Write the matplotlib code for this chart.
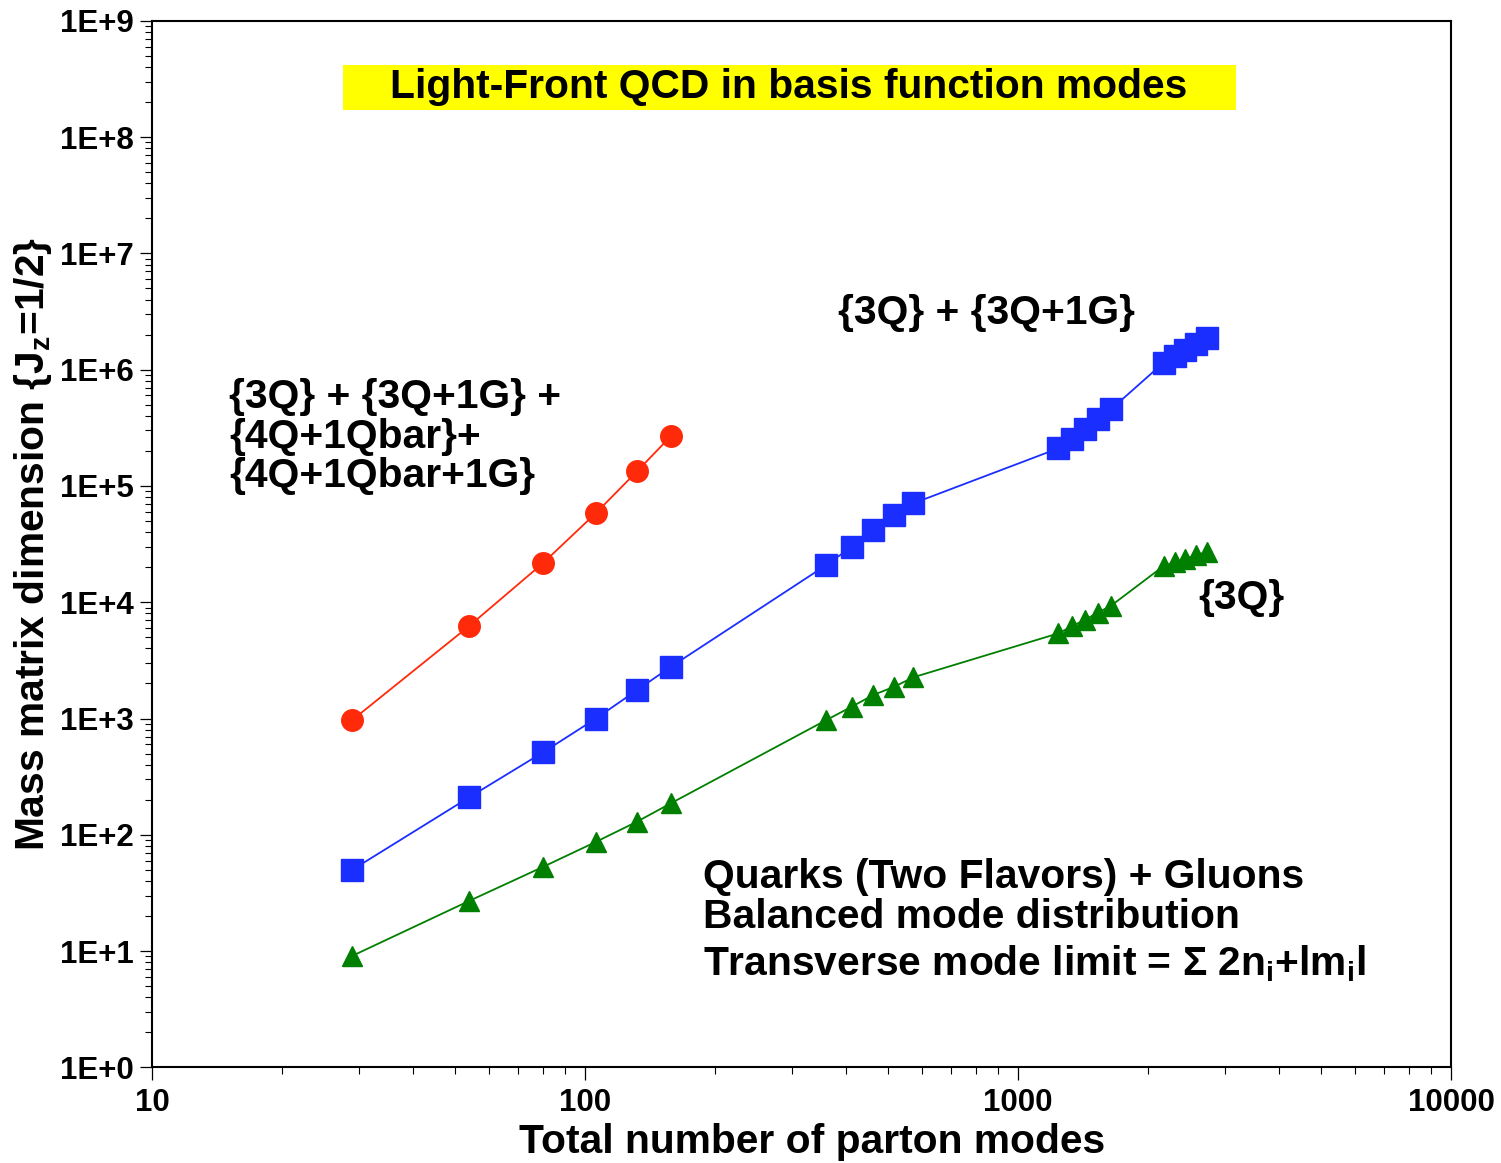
import matplotlib
matplotlib.use("Agg")
import matplotlib.pyplot as plt
from matplotlib.ticker import FixedLocator, LogLocator, NullFormatter
from matplotlib.patches import Rectangle

plt.rcParams['font.family'] = ['Liberation Sans', 'DejaVu Sans']
plt.rcParams['font.weight'] = 'bold'
plt.rcParams['mathtext.fontset'] = 'custom'
plt.rcParams['mathtext.rm'] = 'Liberation Sans:bold'
plt.rcParams['mathtext.bf'] = 'Liberation Sans:bold'
plt.rcParams['mathtext.it'] = 'Liberation Sans:bold'
plt.rcParams['mathtext.sf'] = 'Liberation Sans:bold'
plt.rcParams['mathtext.default'] = 'bf'

# Total number of parton modes for each truncation
modes_low = [29, 54, 80, 106, 132, 158]
modes_mid = [361, 413, 463, 518, 573]
modes_high1 = [1240, 1330, 1430, 1530, 1640]
modes_high2 = [2170, 2300, 2430, 2580, 2730]
modes_all = modes_low + modes_mid + modes_high1 + modes_high2

# Mass matrix dimensions (J_z = 1/2)
dim_with_qbar = [970, 6240, 21700, 58500, 134000, 269000]
dim_3q_1g = [50, 210, 512, 1000, 1760, 2790,
             20900, 30000, 41800, 56200, 70800,
             210500, 255000, 310000, 375000, 456000,
             1150000, 1300000, 1470000, 1660000, 1870000]
dim_3q = [9.1, 27, 53, 87, 130, 187,
          971, 1263, 1592, 1877, 2260,
          5400, 6190, 7090, 8140, 9330,
          20500, 22000, 23600, 25300, 27200]

x_ticks = [10, 100, 1000, 10000]
x_tick_labels = ["10", "100", "1000", "10000"]
y_ticks = [10.0 ** k for k in range(10)]
y_tick_labels = ["1E+%d" % k for k in range(10)]

fig = plt.figure(figsize=(15.01, 11.63), dpi=100)
ax = fig.add_axes([0.1013, 0.0822, 0.8654, 0.9000])

ax.plot(modes_low, dim_with_qbar, color='#ff2a0a', lw=1.3, marker='o',
        ms=15.5, mec='#ff2a0a', mfc='#ff2a0a')
ax.plot(modes_all, dim_3q_1g, color='#1a2eff', lw=1.3, marker='s',
        ms=15.5, mec='#1a2eff', mfc='#1a2eff')
ax.plot(modes_all, dim_3q, color='#007f00', lw=1.3, marker='^',
        ms=14.5, mec='#007f00', mfc='#007f00')

ax.set_xscale('log')
ax.set_yscale('log')
ax.set_xlim(10, 10000)
ax.set_ylim(1, 1e9)

ax.xaxis.set_major_locator(FixedLocator(x_ticks))
ax.set_xticklabels(x_tick_labels)
ax.yaxis.set_major_locator(FixedLocator(y_ticks))
ax.set_yticklabels(y_tick_labels)
ax.xaxis.set_minor_locator(LogLocator(base=10, subs=range(2, 10), numticks=20))
ax.yaxis.set_minor_locator(LogLocator(base=10, subs=range(2, 10), numticks=20))
ax.xaxis.set_minor_formatter(NullFormatter())
ax.yaxis.set_minor_formatter(NullFormatter())

ax.tick_params(which='major', direction='out', length=9, width=0.9,
               labelsize=22.5, top=False, right=False)
ax.tick_params(which='minor', direction='out', length=5, width=0.8,
               top=False, right=False)
ax.tick_params(axis='y', which='major', pad=4)
ax.tick_params(axis='x', which='major', pad=6)
for lbl in ax.get_xticklabels() + ax.get_yticklabels():
    lbl.set_fontweight('bold')
for sp in ax.spines.values():
    sp.set_linewidth(1.5)

big = 29.3

ax.set_xlabel("Total number of parton modes", fontsize=big, fontweight='bold')
ax.xaxis.set_label_coords(0.508, -0.053)
ax.set_ylabel(r"Mass matrix dimension {J$_z$=1/2}", fontsize=big,
              fontweight='bold')
ax.yaxis.label.set_va('center')
ax.yaxis.set_label_coords(-0.0916, 0.5)

# Title banner
ax.add_patch(Rectangle((0.147, 0.9147), 0.6875, 0.043, transform=ax.transAxes,
                       facecolor='#ffff00', edgecolor='none', zorder=1))
ax.text(0.4904, 0.9367, "Light-Front QCD in basis function modes",
        transform=ax.transAxes, ha='center', va='center', fontsize=big,
        fontweight='bold', zorder=2)

# Series labels
multi_lines = ["{3Q} + {3Q+1G} +", "{4Q+1Qbar}+", "{4Q+1Qbar+1G}"]
for txt, yy in zip(multi_lines, [0.6405, 0.6023, 0.5650]):
    ax.text(0.0593, yy, txt, transform=ax.transAxes, ha='left', va='center',
            fontsize=big, fontweight='bold')
ax.text(0.528, 0.7207, "{3Q} + {3Q+1G}", transform=ax.transAxes,
        ha='left', va='center', fontsize=big, fontweight='bold')
ax.text(0.8052, 0.4485, "{3Q}", transform=ax.transAxes,
        ha='left', va='center', fontsize=big, fontweight='bold')

# Notes on the basis truncation
note_lines = ["Quarks (Two Flavors) + Gluons",
              "Balanced mode distribution",
              r"Transverse mode limit = $\Sigma$ 2n$_i$+lm$_i$l"]
for txt, yy in zip(note_lines, [0.1715, 0.1333, 0.0880]):
    ax.text(0.4242, yy, txt, transform=ax.transAxes, ha='left',
            va='baseline', fontsize=big, fontweight='bold')

fig.savefig("out.png", dpi=100)
